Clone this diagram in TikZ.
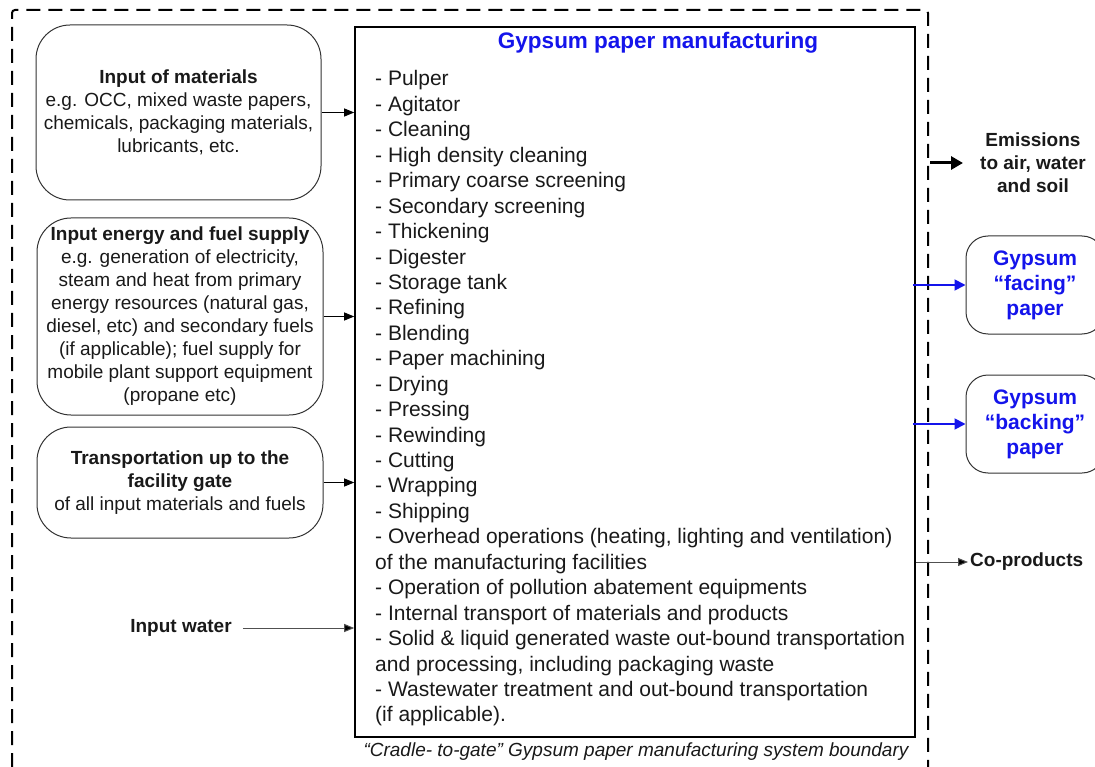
\documentclass[tikz,border=0pt]{standalone}
\usepackage{fontspec}
\setmainfont{Liberation Sans}
\usetikzlibrary{arrows.meta}
\definecolor{txt}{RGB}{25,25,25}
\definecolor{gblue}{RGB}{20,20,235}
\definecolor{lgray}{RGB}{80,80,80}
\begin{document}
\begin{tikzpicture}[x=1pt,y=-1pt,
  boundary/.style={draw=black, line width=2pt, dash pattern=on 14pt off 8pt},
  inbox/.style={draw=black!80, line width=1pt, rounded corners=34pt, align=center,
    font=\fontsize{19}{23}\selectfont, text=txt, inner sep=0pt},
  outbox/.style={draw=black!80, line width=1pt, rounded corners=22pt, align=center,
    font=\fontsize{21}{25}\selectfont\bfseries, text=gblue, inner sep=0pt,
    minimum width=138pt, minimum height=98pt},
  mainbox/.style={draw=black, line width=1.6pt, minimum width=560pt, minimum height=710pt, inner sep=0pt},
  lbl/.style={font=\fontsize{19}{23}\selectfont\bfseries, text=txt, align=center, inner sep=0pt},
  arr/.style={draw=black, line width=1pt, -{Triangle[length=10pt,width=8pt]}},
  garr/.style={draw=lgray, line width=1pt, -{Triangle[length=10pt,width=8pt,fill=black]}},
  barr/.style={draw=gblue, line width=1.8pt, -{Triangle[length=11pt,width=11pt]}},
  thickarr/.style={draw=black, line width=3pt, -{Triangle[length=12pt,width=13pt]}}
]
\useasboundingbox (0,0) rectangle (1095,767);

% system boundary
\draw[boundary, rounded corners=3pt] (12,767) -- (12,10) -- (928,10) -- (928,767);

% main box
\node[mainbox] (main) at (635,382) {};
\node[font=\fontsize{22.5}{26}\selectfont\bfseries, text=gblue, inner sep=0pt] (title) at (658,43) {Gypsum paper manufacturing};
\node[anchor=north west, align=left, inner sep=0pt, text=txt, font=\fontsize{21}{25.44}\selectfont] (list) at (375,70.5) {%
- Pulper\\
- Agitator\\
- Cleaning\\
- High density cleaning\\
- Primary coarse screening\\
- Secondary screening\\
- Thickening\\
- Digester\\
- Storage tank\\
- Refining\\
- Blending\\
- Paper machining\\
- Drying\\
- Pressing\\
- Rewinding\\
- Cutting\\
- Wrapping\\
- Shipping\\
- Overhead operations (heating, lighting and ventilation)\\
of the manufacturing facilities\\
- Operation of pollution abatement equipments\\
- Internal transport of materials and products\\
- Solid \& liquid generated waste out-bound transportation\\
and processing, including packaging waste\\
- Wastewater treatment and out-bound transportation\\
(if applicable).};
\node[font=\fontsize{19}{23}\selectfont\itshape, text=txt, inner sep=0pt] (caption) at (636,752) {“Cradle- to-gate” Gypsum paper manufacturing system boundary};

% input boxes
\node[inbox, minimum width=285pt, minimum height=175pt] (mat) at (178.5,112.5) {%
\textbf{Input of materials}\\
e.g. OCC, mixed waste papers,\\
chemicals, packaging materials,\\
lubricants, etc.};
\node[inbox, minimum width=286pt, minimum height=197pt] (energy) at (180,316.5) {%
\textbf{Input energy and fuel supply}\\
e.g. generation of electricity,\\
steam and heat from primary\\
energy resources (natural gas,\\
diesel, etc) and secondary fuels\\
(if applicable); fuel supply for\\
mobile plant support equipment\\
(propane etc)};
\node[inbox, minimum width=286pt, minimum height=111pt] (trans) at (180,482.5) {%
\textbf{Transportation up to the}\\
\textbf{facility gate}\\
of all input materials and fuels};
\node[lbl] (water) at (181,628) {Input water};

\draw[arr] (mat.east) -- (mat.east -| main.west);
\draw[arr] (energy.east) -- (energy.east -| main.west);
\draw[arr] (trans.east) -- (trans.east -| main.west);
\draw[garr] ([xshift=11pt]water.east) -- (water.east -| main.west);

% outputs
\node[lbl] (emis) at (1033,163) {Emissions\\to air, water\\and soil};
\coordinate (emstart) at (930,163);
\draw[thickarr] (emstart) -- ([xshift=-17pt]emis.west);

\node[outbox] (facing) at (1035,285) {Gypsum\\“facing”\\paper};
\node[outbox] (backing) at (1035,424) {Gypsum\\“backing”\\paper};
\draw[barr] ([xshift=-3pt]main.east |- facing.west) -- (facing.west);
\draw[barr] ([xshift=-3pt]main.east |- backing.west) -- (backing.west);

\node[lbl, anchor=west] (cop) at (970,562) {Co-products};
\draw[garr] (main.east |- cop.west) -- ([xshift=-2pt]cop.west);
\end{tikzpicture}
\end{document}
